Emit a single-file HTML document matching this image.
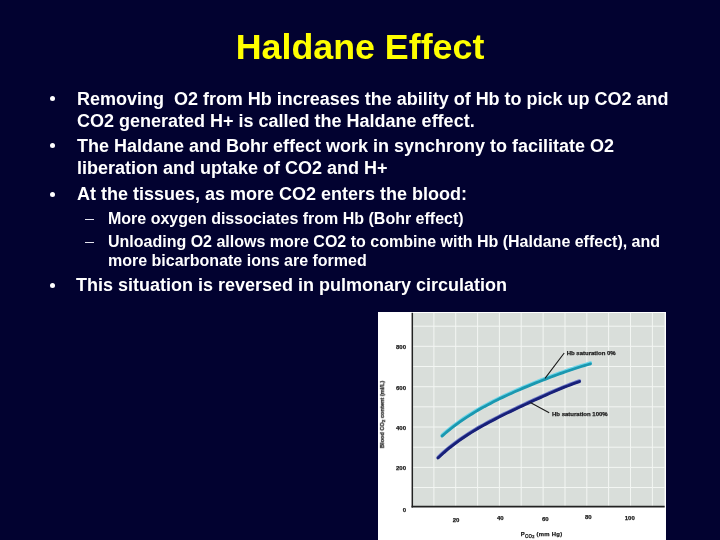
<!DOCTYPE html>
<html><head><meta charset="utf-8">
<style>
html,body{margin:0;padding:0;}
body{width:720px;height:540px;background:#020230;overflow:hidden;position:relative;font-family:"Liberation Sans",sans-serif;font-weight:bold;color:#fff;}
.t{position:absolute;white-space:nowrap;line-height:1;will-change:transform;}
#title{left:0;width:720px;text-align:center;top:30px;font-size:35.8px;color:#ffff00;}
.b{font-size:18px;left:76.5px;}
.s{font-size:16px;left:108px;}
.dot{position:absolute;left:50px;width:5px;height:5px;border-radius:50%;background:#fff;}
.dash{position:absolute;left:85px;width:9px;height:1px;background:#e4e4ee;}
</style></head><body>
<div class="t" id="title">Haldane Effect</div>

<div class="dot" style="top:96.3px;"></div>
<div class="t b" style="top:90px;letter-spacing:-0.01px;">Removing&nbsp; O2 from Hb increases the ability of Hb to pick up CO2 and</div>
<div class="t b" style="top:112px;">CO2 generated H+ is called the Haldane effect.</div>

<div class="dot" style="top:143.3px;"></div>
<div class="t b" style="top:137px;">The Haldane and Bohr effect work in synchrony to facilitate O2</div>
<div class="t b" style="top:159px;">liberation and uptake of CO2 and H+</div>

<div class="dot" style="top:191.5px;"></div>
<div class="t b" style="top:185px;">At the tissues, as more CO2 enters the blood:</div>

<div class="dash" style="top:219px;"></div>
<div class="t s" style="top:210.5px;">More oxygen dissociates from Hb (Bohr effect)</div>
<div class="dash" style="top:242px;"></div>
<div class="t s" style="top:234px;">Unloading O2 allows more CO2 to combine with Hb (Haldane effect), and</div>
<div class="t s" style="top:253px;">more bicarbonate ions are formed</div>

<div class="dot" style="top:282.5px;"></div>
<div class="t b" style="top:276px;left:76px;">This situation is reversed in pulmonary circulation</div>

<svg style="position:absolute;left:0;top:0;will-change:transform;" width="720" height="540" viewBox="0 0 720 540" font-family="Liberation Sans, sans-serif" font-weight="bold" font-size="6.0px" fill="#1c1c1c">
<rect x="378" y="312" width="288" height="228" fill="#ffffff"/>
<rect x="412" y="313" width="252.6" height="194" fill="#d9deda"/>
<path d="M433.9 313V507 M455.7 313V507 M477.6 313V507 M499.4 313V507 M521.2 313V507 M543.1 313V507 M565.0 313V507 M586.8 313V507 M608.6 313V507 M630.5 313V507 M652.4 313V507 M412 487.5H664.6 M412 467.4H664.6 M412 447.2H664.6 M412 427.0H664.6 M412 406.8H664.6 M412 386.7H664.6 M412 366.5H664.6 M412 346.3H664.6 M412 326.2H664.6" stroke="#f3f6f3" stroke-width="1" fill="none"/>
<path d="M412.3 312.8V507.5" stroke="#222" stroke-width="1.5" fill="none"/><path d="M411.55 506.65H664.7" stroke="#222" stroke-width="1.8" fill="none"/>
<path d="M442.0 435.23L445.0 432.59L448.1 430.05L451.1 427.61L454.1 425.26L457.2 423.00L460.2 420.82L463.2 418.71L466.2 416.67L469.3 414.71L472.3 412.80L475.3 410.96L478.4 409.17L481.4 407.43L484.4 405.74L487.5 404.10L490.5 402.50L493.5 400.94L496.6 399.42L499.6 397.93L502.6 396.48L505.6 395.05L508.7 393.65L511.7 392.27L514.7 390.92L517.8 389.59L520.8 388.29L523.8 387.00L526.9 385.73L529.9 384.47L532.9 383.24L535.9 382.01L539.0 380.81L542.0 379.62L545.0 378.44L548.1 377.28L551.1 376.13L554.1 375.00L557.2 373.88L560.2 372.78L563.2 371.70L566.3 370.64L569.3 369.59L572.3 368.57L575.3 367.57L578.4 366.59L581.4 365.64L584.4 364.72L587.5 363.82L590.5 362.96" stroke="#6ad4e8" stroke-width="3.3" fill="none" stroke-linecap="round" stroke-linejoin="round"/>
<path d="M442.0 436.13L445.0 433.49L448.1 430.95L451.1 428.51L454.1 426.16L457.2 423.90L460.2 421.72L463.2 419.61L466.2 417.57L469.3 415.61L472.3 413.70L475.3 411.86L478.4 410.07L481.4 408.33L484.4 406.64L487.5 405.00L490.5 403.40L493.5 401.84L496.6 400.32L499.6 398.83L502.6 397.38L505.6 395.95L508.7 394.55L511.7 393.17L514.7 391.82L517.8 390.49L520.8 389.19L523.8 387.90L526.9 386.63L529.9 385.37L532.9 384.14L535.9 382.91L539.0 381.71L542.0 380.52L545.0 379.34L548.1 378.18L551.1 377.03L554.1 375.90L557.2 374.78L560.2 373.68L563.2 372.60L566.3 371.54L569.3 370.49L572.3 369.47L575.3 368.47L578.4 367.49L581.4 366.54L584.4 365.62L587.5 364.72L590.5 363.86" stroke="#1a98b0" stroke-width="2.8" fill="none" stroke-linecap="round" stroke-linejoin="round"/>
<path d="M438.0 457.35L441.0 454.53L444.0 451.83L447.0 449.25L450.0 446.78L453.1 444.40L456.1 442.12L459.1 439.93L462.1 437.82L465.1 435.79L468.1 433.82L471.1 431.92L474.1 430.07L477.1 428.28L480.1 426.54L483.2 424.84L486.2 423.18L489.2 421.56L492.2 419.96L495.2 418.40L498.2 416.86L501.2 415.34L504.2 413.85L507.2 412.37L510.3 410.90L513.3 409.45L516.3 408.02L519.3 406.59L522.3 405.17L525.3 403.76L528.3 402.37L531.3 400.98L534.3 399.59L537.4 398.22L540.4 396.86L543.4 395.51L546.4 394.17L549.4 392.84L552.4 391.53L555.4 390.24L558.4 388.97L561.4 387.72L564.4 386.50L567.5 385.30L570.5 384.14L573.5 383.01L576.5 381.92L579.5 380.87" stroke="#6a78c8" stroke-width="3.3" fill="none" stroke-linecap="round" stroke-linejoin="round"/>
<path d="M438.0 458.05L441.0 455.23L444.0 452.53L447.0 449.95L450.0 447.48L453.1 445.10L456.1 442.82L459.1 440.63L462.1 438.52L465.1 436.49L468.1 434.52L471.1 432.62L474.1 430.77L477.1 428.98L480.1 427.24L483.2 425.54L486.2 423.88L489.2 422.26L492.2 420.66L495.2 419.10L498.2 417.56L501.2 416.04L504.2 414.55L507.2 413.07L510.3 411.60L513.3 410.15L516.3 408.72L519.3 407.29L522.3 405.87L525.3 404.46L528.3 403.07L531.3 401.68L534.3 400.29L537.4 398.92L540.4 397.56L543.4 396.21L546.4 394.87L549.4 393.54L552.4 392.23L555.4 390.94L558.4 389.67L561.4 388.42L564.4 387.20L567.5 386.00L570.5 384.84L573.5 383.71L576.5 382.62L579.5 381.57" stroke="#182078" stroke-width="2.9" fill="none" stroke-linecap="round" stroke-linejoin="round"/>
<path d="M564.2 353L545 378.3M530.3 402.5L549.2 412.8" stroke="#1a1a1a" stroke-width="1.1" fill="none"/>
<g stroke="#1c1c1c" stroke-width="0.25">
<text x="406" y="349" text-anchor="end" >800</text>
<text x="406" y="390" text-anchor="end" >600</text>
<text x="406" y="430.3" text-anchor="end" >400</text>
<text x="406" y="469.8" text-anchor="end" >200</text>
<text x="406" y="512.2" text-anchor="end" >0</text>
<text x="456" y="521.5" text-anchor="middle" >20</text>
<text x="500.3" y="520.0999999999999" text-anchor="middle" >40</text>
<text x="545.3" y="521.0" text-anchor="middle" >60</text>
<text x="588.3" y="519.3" text-anchor="middle" >80</text>
<text x="629.8" y="520.0999999999999" text-anchor="middle" >100</text>
<text x="566.7" y="355.2" text-anchor="start" >Hb saturation 0%</text>
<text x="552" y="415.5" text-anchor="start" >Hb saturation 100%</text>
<text x="520.8" y="536" font-size="5.9px" letter-spacing="0.27">P<tspan font-size="4.5px" dy="1.6">CO<tspan font-size="3.8px" dy="0.8">2</tspan></tspan><tspan dy="-2.4"> (mm Hg)</tspan></text>
<text transform="translate(383.9,448.2) rotate(-90)" x="0" y="0" font-size="5.65px">Blood CO<tspan font-size="4.3px" dy="1.4">2</tspan><tspan dy="-1.4"> content (ml/L)</tspan></text>
</g>
</svg>
</body></html>
